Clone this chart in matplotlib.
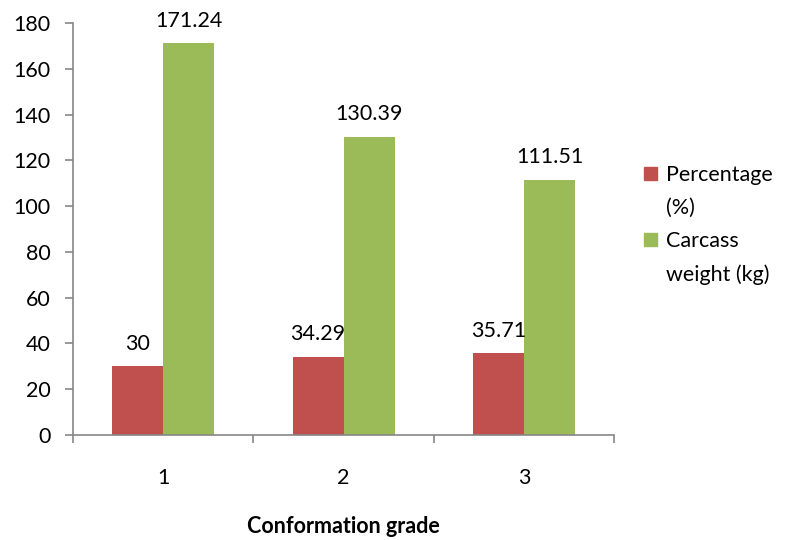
import numpy as np
import matplotlib
matplotlib.use('Agg')
import matplotlib.pyplot as plt
from matplotlib.patches import Patch

grades = ['1', '2', '3']
percentage = [30, 34.29, 35.71]
carcass_weight = [171.24, 130.39, 111.51]
pct_labels = ['30', '34.29', '35.71']
cw_labels = ['171.24', '130.39', '111.51']

plt.rcParams['font.family'] = ['Lato', 'DejaVu Sans']
axis_gray = '#868686'
red = '#C0504D'
green = '#9BBB59'
fs = 15.5

fig = plt.figure(figsize=(7.87, 5.40), dpi=100)
ax = fig.add_axes([0.0928, 0.1944, 0.6875, 0.7630])

x = np.arange(len(grades))
w = 0.283
ax.bar(x - w / 2, percentage, w, color=red)
ax.bar(x + w / 2, carcass_weight, w, color=green)

for xi, v, s in zip(x, percentage, pct_labels):
    ax.annotate(s, (xi - w / 2, v), xytext=(0, 9), textcoords='offset points',
                ha='center', va='bottom', fontsize=fs)
for xi, v, s in zip(x, carcass_weight, cw_labels):
    ax.annotate(s, (xi + w / 2, v), xytext=(0, 9), textcoords='offset points',
                ha='center', va='bottom', fontsize=fs)

ax.set_xlim(-0.5, 2.5)
ax.set_ylim(0, 180)
ax.set_yticks(np.arange(0, 181, 20))
ax.set_xticks(x)
ax.set_xticklabels(grades)
ax.set_xticks([-0.5, 0.5, 1.5, 2.5], minor=True)
ax.tick_params(axis='x', which='major', length=0, pad=24, labelsize=fs)
ax.tick_params(axis='x', which='minor', length=6, color=axis_gray, width=1.2)
ax.tick_params(axis='y', length=6, color=axis_gray, width=1.2, labelsize=fs, pad=10)

for side in ['top', 'right']:
    ax.spines[side].set_visible(False)
for side in ['left', 'bottom']:
    ax.spines[side].set_color(axis_gray)
    ax.spines[side].set_linewidth(1.2)

ax.set_xlabel('Conformation grade', fontsize=fs, fontweight='bold', labelpad=20)

# wrapped legend labels: marker only on the first line of each entry
blank = Patch(facecolor='none', edgecolor='none')
handles = [Patch(color=red), blank, Patch(color=green), blank]
labels = ['Percentage', '(%)', 'Carcass', 'weight (kg)']
ax.legend(handles, labels, loc='center left', bbox_to_anchor=(1.02, 0.51),
          frameon=False, fontsize=fs, handlelength=0.6, handleheight=0.6,
          handletextpad=0.4, labelspacing=0.6)

fig.savefig('out.png', dpi=100)
